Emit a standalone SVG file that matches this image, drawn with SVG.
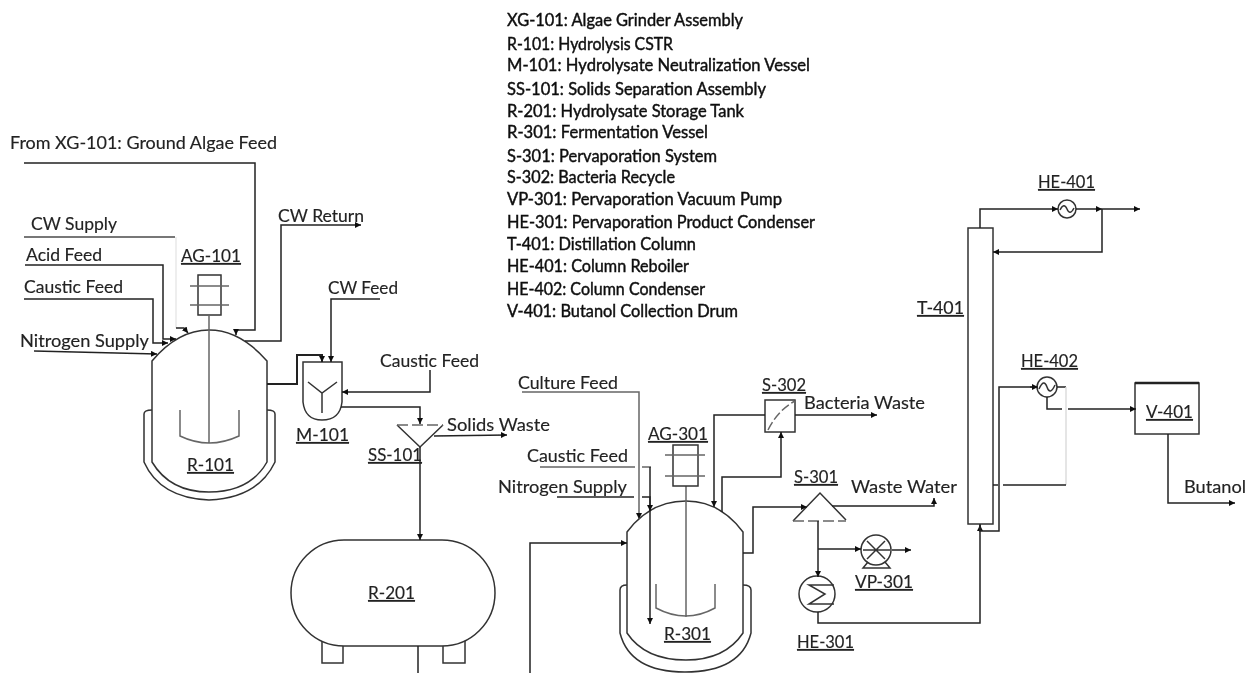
<svg xmlns="http://www.w3.org/2000/svg" width="1247" height="673" viewBox="0 0 1247 673">
<style>
text{font-family:Lato,"Liberation Sans",sans-serif;font-size:17.5px;fill:#222;stroke:#222;stroke-width:.15px}
.u{text-decoration:underline}
.k{fill:#111;stroke:#111;stroke-width:.45px;font-size:17px}
.s{fill:#fff;stroke:#333;stroke-width:1.5}
.n{fill:none;stroke:#333;stroke-width:1.5}
.g{fill:none;stroke:#666;stroke-width:1.5}
.c{fill:none;stroke:#222;stroke-width:1.5}
</style>
<defs>
<marker id="a" markerUnits="userSpaceOnUse" markerWidth="8" markerHeight="8" refX="6" refY="3" orient="auto"><path d="M0,0L6,3L0,6Z" fill="#111"/></marker>
<filter id="b" x="0" y="0" width="100%" height="100%"><feGaussianBlur stdDeviation="0.45"/></filter>
</defs>
<rect width="1247" height="673" fill="#fff"/>
<g filter="url(#b)">
<g id="R-101">
<path class="n" d="M144,414Q144,410 152,410M144,414V462Q160,498 209,500Q258,498 275,462V414Q275,410 267,410"/>
<path class="s" d="M152,361Q178,330 209,330Q240,330 267,361V462Q250,492 209,492Q170,492 152,462Z"/>
<path class="g" d="M180,410V436Q209,450 239,436V410M209,316V443"/>
<text class="u" x="187" y="471" textLength="47" lengthAdjust="spacingAndGlyphs">R-101</text>
</g>
<g id="AG-101">
<rect class="n" x="198" y="275" width="23" height="40"/>
<path class="g" d="M190,286H229M190,305H229"/>
<text class="u" x="181" y="262" textLength="60" lengthAdjust="spacingAndGlyphs">AG-101</text>
</g>
<g id="M-101">
<path class="s" d="M303,362H342V402Q340,420 322,420Q305,420 303,402Z"/>
<path class="n" d="M308,382L322,393L337,382M322,393V413"/>
<text class="u" x="296" y="441" textLength="53" lengthAdjust="spacingAndGlyphs">M-101</text>
</g>
<g id="SS-101">
<path class="n" d="M397,425L420,447L443,425"/>
<path class="g" stroke-dasharray="11 4" d="M397,425H443"/>
<text class="u" x="368" y="461" textLength="54" lengthAdjust="spacingAndGlyphs">SS-101</text>
</g>
<g id="R-201">
<rect class="n" x="322" y="640" width="21" height="23"/>
<rect class="n" x="443" y="640" width="22" height="23"/>
<rect class="s" x="291" y="540" width="204" height="106" rx="53" ry="53"/>
<text class="u" x="368" y="599" textLength="47" lengthAdjust="spacingAndGlyphs">R-201</text>
</g>
<g id="R-301">
<path class="n" d="M620,590Q620,585 627,585M620,590V633Q630,672 685,672Q741,672 751,633V590Q751,585 743,585"/>
<path class="s" d="M627,532Q650,501 686,501Q720,501 743,532V633Q725,660 686,660Q645,660 627,633Z"/>
<path class="g" d="M656,584V608Q686,624 715,608V584M686,486V617"/>
<text class="u" x="664" y="640" textLength="47" lengthAdjust="spacingAndGlyphs">R-301</text>
</g>
<g id="AG-301">
<rect class="n" x="673" y="445" width="25" height="41"/>
<path class="g" d="M665,455H705M665,476H705"/>
<text class="u" x="648" y="440" textLength="60" lengthAdjust="spacingAndGlyphs">AG-301</text>
</g>
<g id="S-302">
<rect class="s" x="765" y="400" width="30" height="32"/>
<path class="g" stroke-dasharray="9 3" d="M768,430Q778,410 795,401"/>
<text class="u" x="762" y="391" textLength="44" lengthAdjust="spacingAndGlyphs">S-302</text>
</g>
<g id="S-301">
<path class="n" d="M793,521L820,493L846,520"/>
<path class="g" stroke-dasharray="11 4" d="M793,521H846"/>
<text class="u" x="794" y="483" textLength="44" lengthAdjust="spacingAndGlyphs">S-301</text>
</g>
<g id="VP-301">
<circle class="s" cx="876" cy="550" r="15"/>
<path class="n" d="M867,541L885,559M885,541L867,559M863,550H890M868,562L863,568H890L885,562"/>
<text class="u" x="855" y="588" textLength="58" lengthAdjust="spacingAndGlyphs">VP-301</text>
</g>
<g id="HE-301">
<circle class="s" cx="817" cy="594" r="18"/>
<path class="n" d="M834,585H809L825,594L809,604H834"/>
<text class="u" x="797" y="648" textLength="57" lengthAdjust="spacingAndGlyphs">HE-301</text>
</g>
<g id="T-401">
<rect class="s" x="968" y="228" width="25" height="296"/>
<text class="u" x="917" y="314" textLength="47" lengthAdjust="spacingAndGlyphs">T-401</text>
</g>
<g id="HE-401">
<circle class="s" cx="1067" cy="209" r="9"/>
<path class="n" d="M1060,210Q1064,202 1067,209Q1070,216 1074,208"/>
<text class="u" x="1038" y="188" textLength="57" lengthAdjust="spacingAndGlyphs">HE-401</text>
</g>
<g id="HE-402">
<circle class="s" cx="1047" cy="387" r="10"/>
<path class="n" d="M1039,389Q1044,378 1047,387Q1050,396 1055,385"/>
<text class="u" x="1021" y="367" textLength="57" lengthAdjust="spacingAndGlyphs">HE-402</text>
</g>
<g id="V-401">
<rect class="s" x="1135" y="383" width="64" height="51"/>
<path d="M1135,383H1199" stroke="#222" stroke-width="2.5"/>
<text class="u" x="1146" y="418" textLength="47" lengthAdjust="spacingAndGlyphs">V-401</text>
</g>
<g id="connectors">
<path class="c" marker-end="url(#a)" d="M24,163H255V330H236V335"/>
<path d="M24,237H175" fill="none" stroke="#777" stroke-width="2"/>
<path d="M176,237V328" fill="none" stroke="#ddd" stroke-width="1"/>
<path class="c" marker-end="url(#a)" d="M176,328H184L188,333"/>
<path class="c" marker-end="url(#a)" d="M25,265H163V339H176"/>
<path class="c" marker-end="url(#a)" d="M24,299H153V343H168"/>
<path class="c" marker-end="url(#a)" d="M34,351L157,354"/>
<path class="c" marker-end="url(#a)" d="M245,341H281V225H361"/>
<path class="c" style="stroke-width:2" marker-end="url(#a)" d="M267,384H297V355H322V362"/>
<path class="c" marker-end="url(#a)" d="M380,299H331V362"/>
<path class="c" marker-end="url(#a)" d="M430,370V392H342"/>
<path class="c" marker-end="url(#a)" d="M341,407H420V424"/>
<path class="c" marker-end="url(#a)" d="M434,436L507,435"/>
<path class="c" marker-end="url(#a)" d="M420,447V540"/>
<path class="c" d="M418,646V673"/>
<path class="c" marker-end="url(#a)" d="M530,673V543H627"/>
<path class="g" marker-end="url(#a)" d="M522,392H639V519"/>
<path class="g" d="M540,467H635M642,467H651"/>
<path class="c" marker-end="url(#a)" d="M650,467V624"/>
<path class="c" d="M557,497H634"/>
<path class="c" marker-end="url(#a)" d="M642,497H650V511"/>
<path class="c" marker-end="url(#a)" d="M765,415H714V507"/>
<path class="c" marker-end="url(#a)" d="M722,512V477H781V432"/>
<path class="c" marker-end="url(#a)" d="M795,415H877"/>
<path class="c" marker-end="url(#a)" d="M743,553H753V507H807"/>
<path class="c" marker-end="url(#a)" d="M832,506H934V498"/>
<path class="c" marker-end="url(#a)" d="M818,521V577"/>
<path class="c" marker-end="url(#a)" d="M818,549H861"/>
<path class="c" marker-end="url(#a)" d="M892,550H911"/>
<path class="c" marker-end="url(#a)" d="M818,612V623H980V525"/>
<path class="c" d="M980,524V531H999V387H1037"/>
<path class="c" marker-end="url(#a)" d="M1030,387H1038"/>
<path class="c" d="M1057,387H1066"/>
<path d="M1066,387V485" fill="none" stroke="#ddd" stroke-width="1.5"/>
<path class="c" d="M1066,485H1003M998,485H993"/>
<path class="c" marker-end="url(#a)" d="M1047,397V409H1062M1068,409H1136"/>
<path class="c" marker-end="url(#a)" d="M1168,434V503H1235"/>
<path class="c" marker-end="url(#a)" d="M980,228V209H1058"/>
<path class="c" marker-end="url(#a)" d="M1076,209H1102"/>
<path class="c" marker-end="url(#a)" d="M1102,209H1140"/>
<path class="c" marker-end="url(#a)" d="M1102,209V252H993"/>
</g>
<g id="labels">
<text x="10" y="149" textLength="267" lengthAdjust="spacingAndGlyphs">From XG-101: Ground Algae Feed</text>
<text x="31" y="230" textLength="86" lengthAdjust="spacingAndGlyphs">CW Supply</text>
<text x="26" y="261" textLength="76" lengthAdjust="spacingAndGlyphs">Acid Feed</text>
<text x="24" y="293" textLength="99" lengthAdjust="spacingAndGlyphs">Caustic Feed</text>
<text x="20" y="347" textLength="129" lengthAdjust="spacingAndGlyphs">Nitrogen Supply</text>
<text x="278" y="222" textLength="86" lengthAdjust="spacingAndGlyphs">CW Return</text>
<text x="328" y="294" textLength="70" lengthAdjust="spacingAndGlyphs">CW Feed</text>
<text x="380" y="367" textLength="99" lengthAdjust="spacingAndGlyphs">Caustic Feed</text>
<text x="447" y="431" textLength="103" lengthAdjust="spacingAndGlyphs">Solids Waste</text>
<text x="518" y="389" textLength="100" lengthAdjust="spacingAndGlyphs">Culture Feed</text>
<text x="527" y="462" textLength="101" lengthAdjust="spacingAndGlyphs">Caustic Feed</text>
<text x="498" y="493" textLength="129" lengthAdjust="spacingAndGlyphs">Nitrogen Supply</text>
<text x="804" y="409" textLength="121" lengthAdjust="spacingAndGlyphs">Bacteria Waste</text>
<text x="851" y="493" textLength="106" lengthAdjust="spacingAndGlyphs">Waste Water</text>
<text x="1184" y="493" textLength="62" lengthAdjust="spacingAndGlyphs">Butanol</text>
</g>
<g id="legend">
<text class="k" x="507" y="26" textLength="236" lengthAdjust="spacingAndGlyphs">XG-101: Algae Grinder Assembly</text>
<text class="k" x="507" y="50" textLength="166" lengthAdjust="spacingAndGlyphs">R-101: Hydrolysis CSTR</text>
<text class="k" x="507" y="71" textLength="303" lengthAdjust="spacingAndGlyphs">M-101: Hydrolysate Neutralization Vessel</text>
<text class="k" x="507" y="95" textLength="259" lengthAdjust="spacingAndGlyphs">SS-101: Solids Separation Assembly</text>
<text class="k" x="507" y="117" textLength="237" lengthAdjust="spacingAndGlyphs">R-201: Hydrolysate Storage Tank</text>
<text class="k" x="507" y="138" textLength="201" lengthAdjust="spacingAndGlyphs">R-301: Fermentation Vessel</text>
<text class="k" x="507" y="162" textLength="210" lengthAdjust="spacingAndGlyphs">S-301: Pervaporation System</text>
<text class="k" x="507" y="183" textLength="168" lengthAdjust="spacingAndGlyphs">S-302: Bacteria Recycle</text>
<text class="k" x="507" y="205" textLength="275" lengthAdjust="spacingAndGlyphs">VP-301: Pervaporation Vacuum Pump</text>
<text class="k" x="507" y="228" textLength="308" lengthAdjust="spacingAndGlyphs">HE-301: Pervaporation Product Condenser</text>
<text class="k" x="507" y="250" textLength="189" lengthAdjust="spacingAndGlyphs">T-401: Distillation Column</text>
<text class="k" x="507" y="272" textLength="182" lengthAdjust="spacingAndGlyphs">HE-401: Column Reboiler</text>
<text class="k" x="507" y="295" textLength="198" lengthAdjust="spacingAndGlyphs">HE-402: Column Condenser</text>
<text class="k" x="507" y="317" textLength="231" lengthAdjust="spacingAndGlyphs">V-401: Butanol Collection Drum</text>
</g>
</g>
</svg>
